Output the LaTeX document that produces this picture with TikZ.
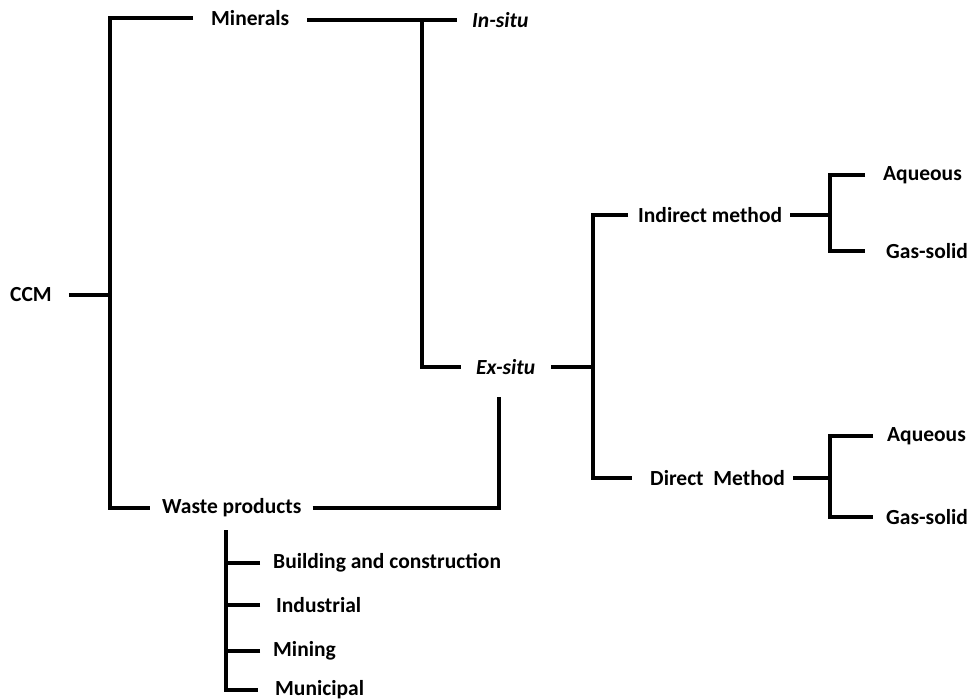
\documentclass[tikz,border=0pt]{standalone}
\usepackage{fontspec}
\setmainfont{Carlito}
\begin{document}
\begin{tikzpicture}[x=1pt,y=-1pt,
  ln/.style={line width=4pt, line join=miter, draw=black},
  lbl/.style={font=\fontsize{21.5}{25}\selectfont\bfseries, inner sep=0pt, anchor=west, text=black},
  itl/.style={lbl, font=\fontsize{21.5}{25}\selectfont\bfseries\itshape}]
\useasboundingbox (0,0) rectangle (975,700);
% nodes
\node[lbl] (ccm) at (10,295) {CCM};
\node[lbl] (min) at (211,18) {Minerals};
\node[itl] (insitu) at (472,20) {In-situ};
\node[itl] (exsitu) at (476,367) {Ex-situ};
\node[lbl] (waste) at (162,508) {Waste products};
\node[lbl] (ind) at (638,215) {Indirect method};
\node[lbl] (aq1) at (883,175) {Aqueous};
\node[lbl] (gs1) at (886,251) {Gas-solid};
\node[lbl] (dir) at (650,478) {Direct\ \ Method};
\node[lbl] (aq2) at (887,436) {Aqueous};
\node[lbl] (gs2) at (886,517) {Gas-solid};
\node[lbl] (bc) at (273,563) {Building and construction};
\node[lbl] (indus) at (276,605) {Industrial};
\node[lbl] (mining) at (273,651) {Mining};
\node[lbl] (muni) at (275,690) {Municipal};
% junction coordinates
\coordinate (sT) at (110,17);
\coordinate (v1) at (422,20);
\coordinate (v2) at (593,367);
\coordinate (v3) at (499,397);
\coordinate (v4) at (830,213);
\coordinate (v5) at (830,478);
\coordinate (v6) at (226,530);
% connectors
\draw[ln] ([xshift=17]ccm.east) -- (ccm.east -| sT);
\draw[ln] ([xshift=-18]min.west) -- (min.west -| sT) -- (waste.west -| sT) -- ([xshift=-12]waste.west);
\draw[ln] ([xshift=18]min.east |- insitu.west) -- ([xshift=-15]insitu.west);
\draw[ln] (v1) -- (v1 |- exsitu.west) -- ([xshift=-15]exsitu.west);
\draw[ln] ([xshift=16]exsitu.east) -- (v2);
\draw[ln] ([xshift=-10]ind.west) -- (ind.west -| v2) -- (dir.west -| v2) -- ([xshift=-18]dir.west);
\draw[ln] ([xshift=11]waste.east) -| (v3);
\draw[ln] ([xshift=8]ind.east) -- (ind.east -| v4);
\draw[ln] ([xshift=-18]aq1.west) -- (aq1.west -| v4) -- (gs1.west -| v4) -- ([xshift=-21]gs1.west);
\draw[ln] ([xshift=8]dir.east) -- (dir.east -| v5);
\draw[ln] ([xshift=-14]aq2.west) -- (aq2.west -| v5) -- (gs2.west -| v5) -- ([xshift=-13]gs2.west);
\draw[ln] (v6) -- (v6 |- muni.west) -- ([xshift=-17]muni.west);
\draw[ln] ([xshift=-13]bc.west) -- (bc.west -| v6);
\draw[ln] ([xshift=-16]indus.west) -- (indus.west -| v6);
\draw[ln] ([xshift=-13]mining.west) -- (mining.west -| v6);
\end{tikzpicture}
\end{document}
